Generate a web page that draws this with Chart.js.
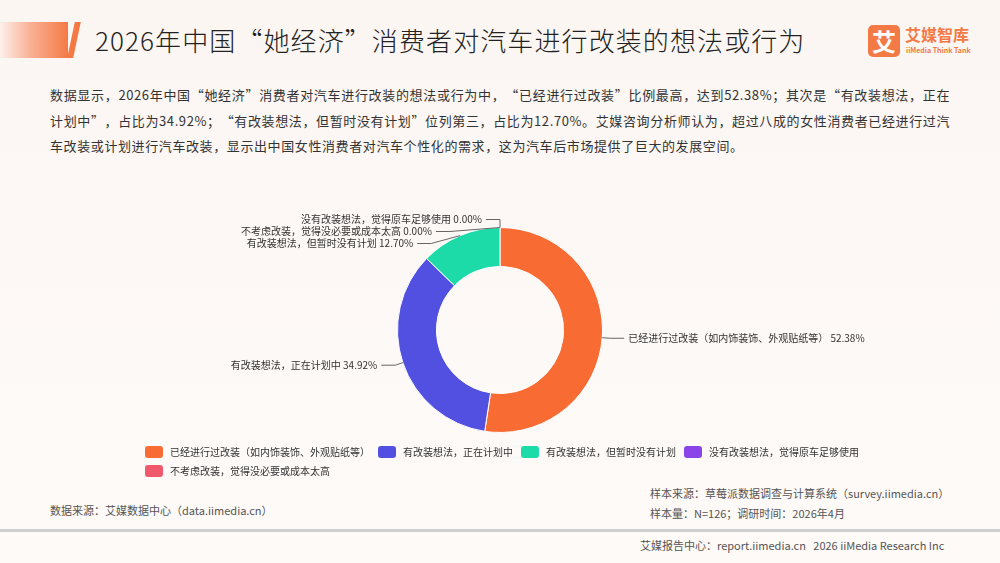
<!DOCTYPE html>
<html>
<head>
<meta charset="utf-8">
<script src="https://cdn.jsdelivr.net/npm/chart.js@4.4.1/dist/chart.umd.min.js"></script>
<style>
  html, body { margin: 0; padding: 0; }
  body {
    width: 1000px; height: 563px; position: relative; overflow: hidden;
    background: linear-gradient(180deg, #fcf6f3 0%, #fdf9f6 60%, #fdfaf8 100%);
    font-family: "Noto Sans CJK SC", "Noto Sans", sans-serif; color: #333;
  }
  .bar {
    position: absolute; left: 0; top: 22px; width: 68px; height: 36px;
    background: linear-gradient(90deg, rgba(247,120,70,0.05) 0%, rgba(247,120,70,0.55) 45%, #f47a45 100%);
  }
  .slash {
    position: absolute; left: 71px; top: 22px; width: 6px; height: 36px;
    background: #f47a45; transform: skewX(-12deg);
  }
  .title {
    position: absolute; left: 95px; top: 20px; font-size: 26px; color: #222;
    line-height: 40px; white-space: nowrap; letter-spacing: 1.1px; font-weight: 300;
  }
  .logo-box {
    position: absolute; left: 868px; top: 25px; width: 32px; height: 32px;
    background: #f47a45; border-radius: 5px; color: #fff; font-weight: bold;
    font-size: 24px; line-height: 32px; text-align: center;
  }
  .logo-cn {
    position: absolute; left: 905px; top: 24px; font-size: 16px; font-weight: bold;
    color: #f47a45; line-height: 20px;
  }
  .logo-en {
    position: absolute; left: 906px; top: 45px; font-size: 7px; font-weight: bold;
    color: #f47a45; line-height: 10px; white-space: nowrap;
  }
  .para {
    position: absolute; left: 50px; top: 82px; width: 900px; font-size: 13px;
    line-height: 25.5px; text-align: justify; color: #333; letter-spacing: 0.6px;
    text-spacing-trim: space-all;
  }
  #wrap { position: absolute; left: 0; top: 200px; width: 1000px; height: 260px; }
  .legend {
    position: absolute; left: 145px; top: 445px; width: 720px;
    display: flex; flex-wrap: wrap; row-gap: 6px; column-gap: 8px;
    font-size: 10px; color: #333;
  }
  .legend .item { display: flex; align-items: center; height: 13px; }
  .legend .sw { width: 18px; height: 12px; border-radius: 3px; margin-right: 7px; }
  .src { position: absolute; left: 50px; top: 502px; font-size: 11px; color: #555; }
  .sample { position: absolute; left: 650px; font-size: 11px; color: #555; white-space: nowrap; }
  .rule { position: absolute; left: 0; top: 529px; width: 1000px; height: 3px; background: #cfcfcf; }
  .footer { position: absolute; left: 640px; top: 537px; font-size: 11px; color: #555; white-space: nowrap; }
</style>
</head>
<body>
<div class="bar"></div>
<div class="slash"></div>
<div class="title">2026年中国“她经济”消费者对汽车进行改装的想法或行为</div>
<div class="logo-box">艾</div>
<div class="logo-cn">艾媒智库</div>
<div class="logo-en">iiMedia Think Tank</div>

<div class="para">数据显示，2026年中国“她经济”消费者对汽车进行改装的想法或行为中，“已经进行过改装”比例最高，达到52.38%；其次是“有改装想法，正在计划中”，占比为34.92%；“有改装想法，但暂时没有计划”位列第三，占比为12.70%。艾媒咨询分析师认为，超过八成的女性消费者已经进行过汽车改装或计划进行汽车改装，显示出中国女性消费者对汽车个性化的需求，这为汽车后市场提供了巨大的发展空间。</div>

<div id="wrap"><canvas id="donut"></canvas></div>
<div class="legend" id="legend"></div>

<div class="src">数据来源：艾媒数据中心（data.iimedia.cn）</div>
<div class="sample" style="top:485px">样本来源：草莓派数据调查与计算系统（survey.iimedia.cn）</div>
<div class="sample" style="top:505px">样本量：N=126；调研时间：2026年4月</div>
<div class="rule"></div>
<div class="footer">艾媒报告中心：report.iimedia.cn&nbsp;&nbsp; 2026 iiMedia Research Inc</div>

<script>
// ====== Data ======
const categories = [
  '已经进行过改装（如内饰装饰、外观贴纸等）',
  '有改装想法，正在计划中',
  '有改装想法，但暂时没有计划',
  '没有改装想法，觉得原车足够使用',
  '不考虑改装，觉得没必要或成本太高'
];
const shares = [52.38, 34.92, 12.70, 0.00, 0.00];
const colors = ['#f86c34', '#5150e0', '#1ddba8', '#8a44e8', '#f0596b'];

// ====== HTML legend ======
const legendEl = document.getElementById('legend');
categories.forEach((name, i) => {
  const item = document.createElement('div');
  item.className = 'item';
  item.innerHTML = '<span class="sw" style="background:' + colors[i] + '"></span><span>' + name + '</span>';
  legendEl.appendChild(item);
});

// ====== Outer labels with leader lines ======
const outerLabels = {
  id: 'outerLabels',
  afterDatasetsDraw(chart) {
    const ctx = chart.ctx;
    const arcs = chart.getDatasetMeta(0).data;
    const cx = arcs[0].x, cy = arcs[0].y;
    const r = arcs[0].outerRadius;
    const R = r + 8;
    const gap = 12;

    const items = arcs.map((arc, i) => {
      const mid = (arc.startAngle + arc.endAngle) / 2;
      const p0 = { x: cx + r * Math.cos(mid), y: cy + r * Math.sin(mid) };
      const p1 = { x: cx + R * Math.cos(mid), y: cy + R * Math.sin(mid) };
      const right = Math.cos(mid) > 0.01;
      return { i, p0, p1, right, y: p1.y };
    });

    // push overlapping labels downward, then slide them along the outer ring
    [true, false].forEach(side => {
      const group = items.filter(it => it.right === side).sort((a, b) => a.y - b.y);
      for (let k = 1; k < group.length; k++) {
        if (group[k].y < group[k - 1].y + gap) group[k].y = group[k - 1].y + gap;
      }
      group.forEach(it => {
        if (Math.abs(it.y - it.p1.y) > 0.5) {
          const dy = it.y - cy;
          const dx = Math.sqrt(Math.max(0, R * R - dy * dy));
          it.p1 = { x: cx + (side ? dx : -dx), y: it.y };
        }
      });
    });

    ctx.save();
    ctx.font = '10px "Noto Sans CJK SC", sans-serif';
    ctx.textBaseline = 'middle';
    ctx.strokeStyle = '#666';
    ctx.lineWidth = 1;
    items.forEach(it => {
      const dir = it.right ? 1 : -1;
      const endX = it.p1.x + dir * 14;
      ctx.beginPath();
      ctx.moveTo(it.p0.x, it.p0.y);
      ctx.lineTo(it.p1.x, it.p1.y);
      ctx.lineTo(endX, it.p1.y);
      ctx.stroke();
      ctx.fillStyle = '#333';
      ctx.textAlign = it.right ? 'left' : 'right';
      ctx.fillText(categories[it.i] + ' ' + shares[it.i].toFixed(2) + '%', endX + dir * 4, it.p1.y);
    });
    ctx.restore();
  }
};

new Chart(document.getElementById('donut'), {
  type: 'doughnut',
  data: {
    labels: categories,
    datasets: [{
      data: shares,
      backgroundColor: colors,
      borderColor: '#ffffff',
      borderWidth: 1
    }]
  },
  options: {
    responsive: true,
    maintainAspectRatio: false,
    animation: false,
    cutout: '62%',
    layout: { padding: { top: 27, bottom: 27 } },
    plugins: {
      legend: { display: false },
      tooltip: { enabled: false }
    }
  },
  plugins: [outerLabels]
});
</script>
</body>
</html>
